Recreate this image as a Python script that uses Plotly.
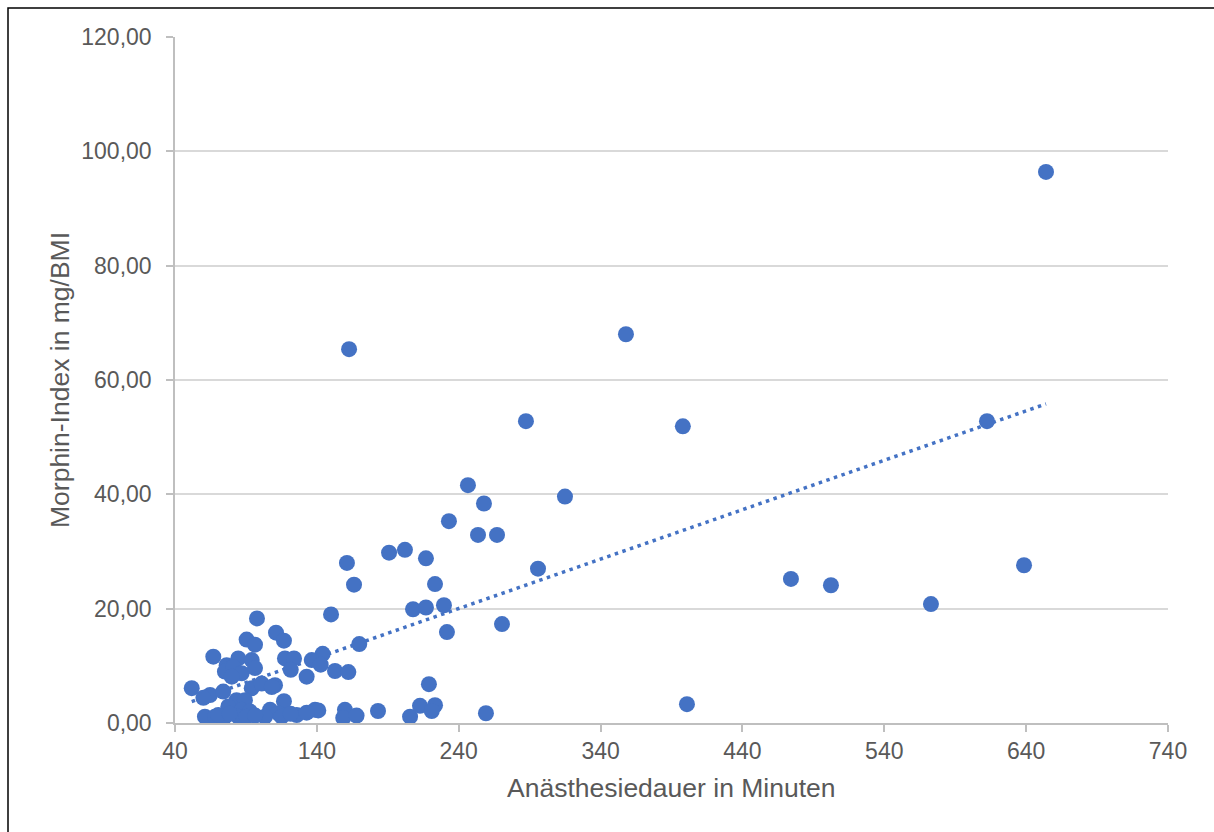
import numpy as np
import plotly.graph_objects as go

# Anästhesiedauer (min) and Morphin-Index (mg/BMI)
dauer = [
    654, 162.7, 357.9, 287.4, 398, 612.4, 246.5, 257.8, 314.9, 233.1,
    253.6, 267, 190.9, 202.1, 216.9, 161.2, 295.9, 166.2, 223.3, 474.2,
    502.4, 638.5, 572.9, 229.6, 207.8, 216.9, 150, 270.5, 231.7, 400.9,
    259.2, 205.7, 183.1, 212.7, 223.3, 221, 219, 169.9, 144.1, 136.4,
    142.7, 132.8, 152.8, 162.2, 138.7, 141, 159.8, 158.6, 168, 111.2,
    116.8, 117.5, 123.9, 121.6, 110.5, 116.8, 125.8, 132.8, 107, 112.8,
    97.8, 90.5, 96.4, 67, 84.6, 94.1, 76.4, 75.2, 81.1, 87,
    96.4, 80, 51.8, 64.7, 74, 94.1, 101.1, 108.2, 83.4, 89.3,
    77.6, 87, 92.9, 61.1, 68.2, 75.2, 84.6, 90.5, 103.4, 115.2,
    60, 70.5, 78.5, 96.5, 121.5,
]
morphin = [
    96.4, 65.4, 68.0, 52.8, 51.9, 52.8, 41.6, 38.4, 39.6, 35.3,
    32.9, 32.9, 29.8, 30.3, 28.8, 28.0, 27.0, 24.2, 24.3, 25.2,
    24.1, 27.6, 20.8, 20.6, 19.9, 20.2, 19.0, 17.3, 15.9, 3.3,
    1.7, 1.1, 2.1, 3.0, 3.1, 2.1, 6.8, 13.8, 12.1, 11.0,
    10.2, 8.1, 9.1, 8.9, 2.3, 2.2, 2.3, 0.9, 1.3, 15.8,
    14.4, 11.3, 11.3, 9.3, 6.6, 3.8, 1.4, 1.8, 2.3, 1.7,
    18.3, 14.6, 13.7, 11.6, 11.3, 11.0, 10.1, 9.0, 9.8, 8.7,
    9.6, 8.1, 6.1, 4.9, 5.5, 6.1, 6.9, 6.3, 4.0, 4.0,
    2.9, 2.3, 2.0, 1.1, 1.1, 1.1, 1.1, 1.1, 1.1, 1.1,
    4.4, 1.4, 1.6, 1.3, 1.6,
]

x_ticks = [40, 140, 240, 340, 440, 540, 640, 740]
y_ticks = [0, 20, 40, 60, 80, 100, 120]

blue = "#4472C4"
grey_text = "#595959"

slope, intercept = np.polyfit(dauer, morphin, 1)
tx = [min(dauer), max(dauer)]
ty = [slope * v + intercept for v in tx]

fig = go.Figure()
fig.add_trace(go.Scatter(
    x=tx, y=ty, mode="lines",
    line=dict(color=blue, width=3.5, dash="3.5px,4.5px"),
    hoverinfo="skip", showlegend=False,
))
fig.add_trace(go.Scatter(
    x=dauer, y=morphin, mode="markers",
    marker=dict(color=blue, size=16, line=dict(width=0)),
    showlegend=False,
))

font = "Liberation Sans, Arial, sans-serif"
fig.update_layout(
    width=1214, height=832,
    margin=dict(l=175, r=46, t=37, b=109),
    paper_bgcolor="white", plot_bgcolor="white",
    separators=",.",
    font=dict(family=font, color=grey_text, size=23),
    xaxis=dict(
        range=[40, 740], tickvals=x_ticks, ticktext=[str(v) for v in x_ticks],
        showgrid=False, zeroline=False,
        showline=True, linecolor="#BFBFBF", linewidth=1.5,
        ticks="outside", ticklen=7, tickcolor="#BFBFBF", tickwidth=1.5,
        tickfont=dict(size=23, color=grey_text),
    ),
    yaxis=dict(
        range=[0, 120], tickvals=y_ticks, tickformat=".2f",
        showgrid=True, gridcolor="#D9D9D9", gridwidth=1.5,
        zeroline=False,
        showline=True, linecolor="#BFBFBF", linewidth=1.5,
        ticks="outside", ticklen=7, tickcolor="#BFBFBF", tickwidth=1.5,
        ticklabelstandoff=10,
        tickfont=dict(size=23, color=grey_text),
    ),
    annotations=[
        dict(text="Anästhesiedauer in Minuten", xref="paper", yref="paper",
             x=0.5, y=(723 - 788) / 686, xanchor="center", yanchor="middle",
             showarrow=False, font=dict(size=26.5, color=grey_text, family=font)),
        dict(text="Morphin-Index in mg/BMI", xref="paper", yref="paper",
             x=(60 - 175) / 993, y=0.5, xanchor="center", yanchor="middle",
             textangle=-90, showarrow=False,
             font=dict(size=26.5, color=grey_text, family=font)),
    ],
    shapes=[
        dict(type="rect", xref="paper", yref="paper",
             x0=(8 - 175) / 993, x1=(1240 - 175) / 993,
             y0=(723 - 860) / 686, y1=(723 - 8) / 686,
             line=dict(color="black", width=1.5), fillcolor="rgba(0,0,0,0)",
             layer="below"),
    ],
)

fig.write_html("out.html")
